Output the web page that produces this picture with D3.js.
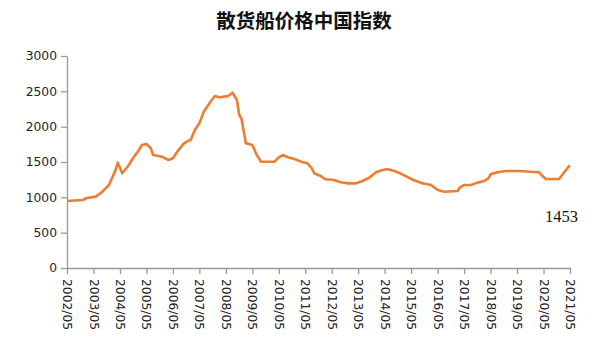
<!DOCTYPE html>
<html><head><meta charset="utf-8">
<script src="https://cdn.jsdelivr.net/npm/d3@7"></script>
<style>body{margin:0;background:#fff}svg{display:block}</style>
</head><body>
<script>
const title = "散货船价格中国指数";
const dates = ["2002/05","2002/12","2003/02","2003/06","2003/09","2003/12","2004/03","2004/04","2004/06","2004/09","2004/11","2005/01","2005/03","2005/05","2005/07","2005/08","2005/12","2006/03","2006/05","2006/07","2006/10","2006/12","2007/01","2007/03","2007/05","2007/07","2007/10","2007/12","2008/02","2008/06","2008/08","2008/10","2008/11","2008/12","2009/02","2009/05","2009/07","2009/09","2010/03","2010/05","2010/07","2010/09","2010/12","2011/04","2011/06","2011/08","2011/09","2011/12","2012/02","2012/06","2012/09","2012/12","2013/04","2013/07","2013/10","2014/01","2014/03","2014/06","2014/09","2014/12","2015/03","2015/06","2015/10","2016/02","2016/05","2016/08","2017/02","2017/03","2017/05","2017/08","2017/11","2018/02","2018/04","2018/05","2018/08","2018/12","2019/06","2019/11","2020/03","2020/04","2020/06","2020/12","2021/02","2021/04","2021/05"];
const values = [948,962,990,1010,1080,1175,1387,1490,1340,1457,1561,1646,1740,1755,1694,1599,1575,1528,1552,1646,1764,1801,1811,1953,2047,2212,2353,2434,2415,2434,2480,2377,2165,2118,1764,1740,1599,1504,1504,1566,1599,1566,1542,1495,1481,1410,1340,1302,1255,1245,1213,1198,1198,1231,1278,1354,1377,1401,1377,1340,1292,1245,1198,1175,1104,1080,1090,1137,1175,1175,1208,1231,1269,1326,1354,1373,1373,1363,1354,1316,1259,1259,1340,1420,1453];
const xTickLabels = ["2002/05","2003/05","2004/05","2005/05","2006/05","2007/05","2008/05","2009/05","2010/05","2011/05","2012/05","2013/05","2014/05","2015/05","2016/05","2017/05","2018/05","2019/05","2020/05","2021/05"];
const yTicks = [0,500,1000,1500,2000,2500,3000];
const lastLabel = "1453";

const W = 592, H = 350;
const m = {left:67, right:22, top:56, bottom:82};
const parse = d3.timeParse("%Y/%m");
const data = dates.map((d,i)=>({date:parse(d), value:values[i]}));

const svg = d3.select("body").append("svg").attr("width",W).attr("height",H);
const x = d3.scaleTime().domain([parse(xTickLabels[0]), parse(xTickLabels[xTickLabels.length-1])]).range([m.left, W-m.right]);
const y = d3.scaleLinear().domain([0,3000]).range([H-m.bottom, m.top]);

svg.append("text").attr("x",304).attr("y",28).attr("text-anchor","middle")
  .attr("font-family","'Noto Sans CJK SC'").attr("font-weight","bold").attr("font-size",19.5)
  .attr("fill","#111").text(title);

const fmt = d3.timeFormat("%Y/%m");
const gx = svg.append("g").attr("transform",`translate(0,${H-m.bottom})`)
  .call(d3.axisBottom(x).tickValues(xTickLabels.map(parse)).tickFormat(fmt).tickSize(6).tickSizeOuter(0));
gx.selectAll("text").attr("transform","rotate(90)").attr("text-anchor","start")
  .attr("x",11).attr("y",0).attr("dy","0.36em").attr("dx",0);

const gy = svg.append("g").attr("transform",`translate(${m.left},0)`)
  .call(d3.axisLeft(y).tickValues(yTicks).tickFormat(d3.format("d")).tickSize(6).tickSizeOuter(0));
gy.selectAll("text").attr("x",-10);

[gx,gy].forEach(g=>{
  g.selectAll("path,line").attr("stroke","#999").attr("stroke-width",1.3);
  g.selectAll("text").attr("font-family","'DejaVu Sans'").attr("font-size",12.3).attr("fill","#222");
});

svg.append("path").datum(data)
  .attr("fill","none").attr("stroke","#ED7D31").attr("stroke-width",2.6).attr("stroke-linejoin","round")
  .attr("d", d3.line().x(d=>x(d.date)).y(d=>y(d.value)));

svg.append("text").attr("x",578).attr("y",222).attr("text-anchor","end")
  .attr("font-family","'Liberation Serif'").attr("font-size",16.5).attr("fill","#111").text(lastLabel);
</script>
</body></html>
